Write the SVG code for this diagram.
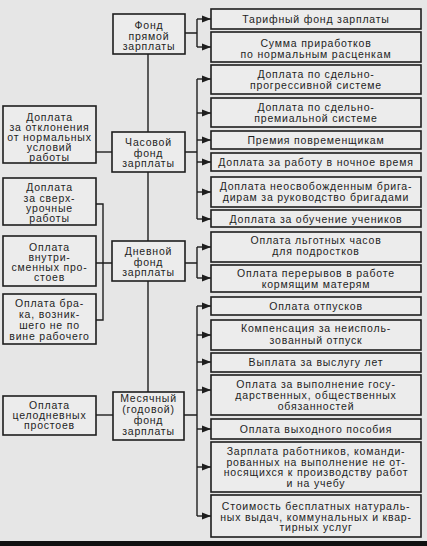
<svg xmlns="http://www.w3.org/2000/svg" width="427" height="546" viewBox="0 0 427 546">
<style>
.bg{fill:#e6e6e6}
.box{fill:#ececec;stroke:#1e1e1e;stroke-width:1.6}
text{font-family:"Liberation Sans",Arial,sans-serif;font-size:10.5px;fill:#1e1e1e;text-anchor:middle;letter-spacing:0.8px}
.ln{fill:none;stroke:#1e1e1e;stroke-width:1.4}
</style>
<defs>
<marker id="ah" markerUnits="userSpaceOnUse" markerWidth="10" markerHeight="8" refX="9" refY="4" orient="auto">
<path d="M0,0.5 L9,4 L0,7.5 Z" fill="#1e1e1e"/>
</marker>
</defs>
<rect class="bg" x="0" y="0" width="427" height="546"/>
<rect x="0" y="541" width="427" height="5" fill="#111"/>

<g id="connectors">
<path class="ln" d="M148,54 V132 M148,172 V241 M148,281 V392"/>
<path class="ln" d="M96,152 H112"/>
<path class="ln" d="M96,204 H103 V320 H96 M96,263 H112"/>
<path class="ln" d="M96,415 H113"/>
<path class="ln" d="M185,33 H197 M197,19 V47"/>
<path class="ln" d="M185,152 H197 M197,79 V219"/>
<path class="ln" d="M185,263 H197 M197,247 V278"/>
<path class="ln" d="M184,415 H197 M197,306 V516"/>
<g class="ln" marker-end="url(#ah)">
<path d="M197,19 H211"/><path d="M197,47 H211"/>
<path d="M197,79 H211"/><path d="M197,113 H211"/><path d="M197,140 H211"/><path d="M197,162 H211"/><path d="M197,192 H211"/><path d="M197,219 H211"/>
<path d="M197,247 H211"/><path d="M197,278 H211"/>
<path d="M197,306 H211"/><path d="M197,335 H211"/><path d="M197,362 H211"/><path d="M197,390 H211"/><path d="M197,429 H211"/><path d="M197,467 H211"/><path d="M197,516 H211"/>
</g>
</g>

<g id="c1"><rect class="box" x="113" y="14" width="72" height="40"/>
<text x="149" y="29">Фонд</text><text x="149" y="39.5">прямой</text><text x="149" y="50">зарплаты</text></g>
<g id="c2"><rect class="box" x="112" y="132" width="73" height="40"/>
<text x="148.5" y="146">Часовой</text><text x="148.5" y="156.5">фонд</text><text x="148.5" y="167">зарплаты</text></g>
<g id="c3"><rect class="box" x="112" y="241" width="73" height="40"/>
<text x="148.5" y="255">Дневной</text><text x="148.5" y="265.5">фонд</text><text x="148.5" y="276">зарплаты</text></g>
<g id="c4"><rect class="box" x="113" y="392" width="71" height="48"/>
<text x="148.5" y="401.5">Месячный</text><text x="148.5" y="412.5">(годовой)</text><text x="148.5" y="423.5">фонд</text><text x="148.5" y="434.5">зарплаты</text></g>

<g id="l1"><rect class="box" x="3" y="106" width="93" height="57"/>
<text x="49.5" y="120.5">Доплата</text><text x="49.5" y="130.5">за отклонения</text><text x="49.5" y="140.5">от нормальных</text><text x="49.5" y="150.5">условий</text><text x="49.5" y="160.5">работы</text></g>
<g id="l2"><rect class="box" x="3" y="178" width="93" height="47"/>
<text x="49.5" y="191">Доплата</text><text x="49.5" y="201.5">за сверх-</text><text x="49.5" y="212">урочные</text><text x="49.5" y="222">работы</text></g>
<g id="l3"><rect class="box" x="3" y="236" width="93" height="50"/>
<text x="49.5" y="251">Оплата</text><text x="49.5" y="261">внутри-</text><text x="49.5" y="271">сменных про-</text><text x="49.5" y="281">стоев</text></g>
<g id="l4"><rect class="box" x="3" y="294" width="93" height="50"/>
<text x="49.5" y="307">Оплата бра-</text><text x="49.5" y="318">ка, возник-</text><text x="49.5" y="329">шего не по</text><text x="49.5" y="340">вине рабочего</text></g>
<g id="l5"><rect class="box" x="3" y="396" width="93" height="39"/>
<text x="49.5" y="409">Оплата</text><text x="49.5" y="419">целодневных</text><text x="49.5" y="429">простоев</text></g>

<g id="r1"><rect class="box" x="211" y="9" width="210" height="20"/><text x="316" y="23">Тарифный фонд зарплаты</text></g>
<g id="r2"><rect class="box" x="211" y="32" width="210" height="30"/><text x="316" y="47">Сумма приработков</text><text x="316" y="57.5">по нормальным расценкам</text></g>
<g id="r3"><rect class="box" x="211" y="65" width="210" height="29"/><text x="316" y="77.5">Доплата по сдельно-</text><text x="316" y="88.5">прогрессивной системе</text></g>
<g id="r4"><rect class="box" x="211" y="98" width="210" height="29"/><text x="316" y="110.5">Доплата по сдельно-</text><text x="316" y="121.5">премиальной системе</text></g>
<g id="r5"><rect class="box" x="211" y="131" width="210" height="18"/><text x="316" y="144">Премия повременщикам</text></g>
<g id="r6"><rect class="box" x="211" y="153" width="210" height="18"/><text x="316" y="166">Доплата за работу в ночное время</text></g>
<g id="r7"><rect class="box" x="211" y="177" width="210" height="30"/><text x="316" y="190">Доплата неосвобожденным брига-</text><text x="316" y="201">дирам за руководство бригадами</text></g>
<g id="r8"><rect class="box" x="211" y="210" width="210" height="17"/><text x="316" y="222.5">Доплата за обучение учеников</text></g>
<g id="r9"><rect class="box" x="211" y="232" width="210" height="30"/><text x="316" y="244">Оплата льготных часов</text><text x="316" y="255">для подростков</text></g>
<g id="r10"><rect class="box" x="211" y="265" width="210" height="27"/><text x="316" y="277">Оплата перерывов в работе</text><text x="316" y="287.5">кормящим матерям</text></g>
<g id="r11"><rect class="box" x="211" y="297" width="210" height="18"/><text x="316" y="309.5">Оплата отпусков</text></g>
<g id="r12"><rect class="box" x="211" y="320" width="210" height="30"/><text x="316" y="332">Компенсация за неисполь-</text><text x="316" y="343.5">зованный отпуск</text></g>
<g id="r13"><rect class="box" x="211" y="353" width="210" height="19"/><text x="316" y="366">Выплата за выслугу лет</text></g>
<g id="r14"><rect class="box" x="211" y="375" width="210" height="40"/><text x="316" y="388">Оплата за выполнение госу-</text><text x="316" y="399">дарственных, общественных</text><text x="316" y="410">обязанностей</text></g>
<g id="r15"><rect class="box" x="211" y="419" width="210" height="20"/><text x="316" y="433">Оплата выходного пособия</text></g>
<g id="r16"><rect class="box" x="211" y="442" width="210" height="50"/><text x="316" y="455">Зарплата работников, команди-</text><text x="316" y="465.5">рованных на выполнение не от-</text><text x="316" y="476">носящихся к производству работ</text><text x="316" y="486.5">и на учебу</text></g>
<g id="r17"><rect class="box" x="211" y="495" width="210" height="42"/><text x="316" y="510">Стоимость бесплатных натураль-</text><text x="316" y="520.5">ных выдач, коммунальных и квар-</text><text x="316" y="531">тирных услуг</text></g>
</svg>
